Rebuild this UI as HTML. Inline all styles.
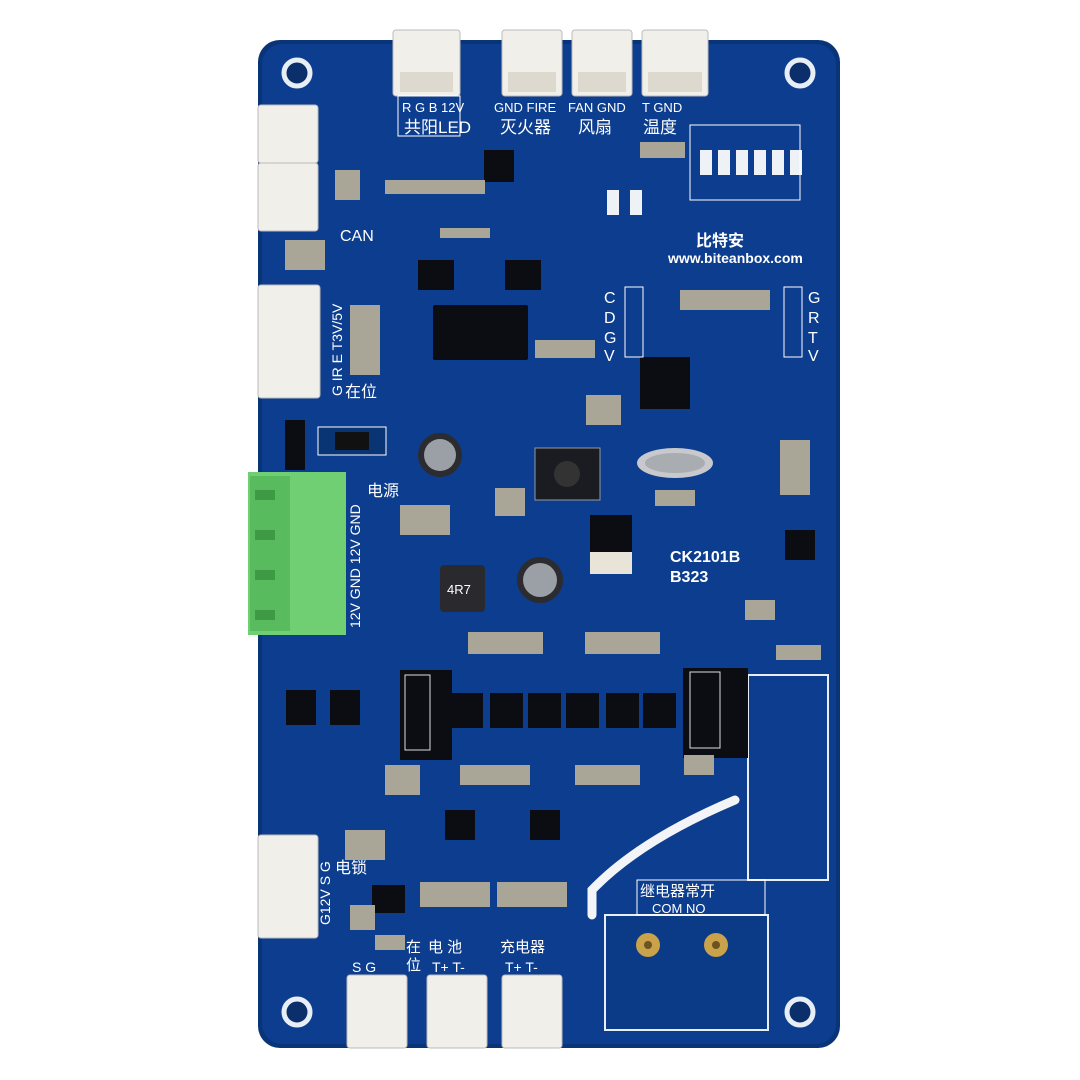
<!DOCTYPE html>
<html><head><meta charset="utf-8"><style>
html,body{margin:0;padding:0;background:#fff;}
svg{display:block}
text{font-family:"Liberation Sans","Noto Sans CJK SC",sans-serif;fill:#fff}
</style></head><body>
<svg width="1080" height="1080" viewBox="0 0 1080 1080" xmlns="http://www.w3.org/2000/svg">
<rect width="1080" height="1080" fill="#fff"/>
<rect x="258" y="40" width="582" height="1008" rx="22" fill="#0a3478"/>
<rect x="262" y="44" width="574" height="1000" rx="20" fill="#0c3d8e"/>
<g fill="#0a2f6a" stroke="#e8eef5" stroke-width="5">
<circle cx="297" cy="73" r="13"/><circle cx="800" cy="73" r="13"/>
<circle cx="297" cy="1012" r="13"/><circle cx="800" cy="1012" r="13"/>
</g>
<g fill="#f1efe9" stroke="#bbb" stroke-width="1">
<rect x="393" y="30" width="67" height="66" rx="3"/>
<rect x="502" y="30" width="60" height="66" rx="3"/>
<rect x="572" y="30" width="60" height="66" rx="3"/>
<rect x="642" y="30" width="66" height="66" rx="3"/>
</g>
<g fill="#ddd9cf"><rect x="400" y="72" width="53" height="20"/><rect x="508" y="72" width="48" height="20"/><rect x="578" y="72" width="48" height="20"/><rect x="648" y="72" width="54" height="20"/></g>
<rect x="398" y="96" width="62" height="40" fill="none" stroke="#fff"/>
<text x="402" y="112" font-size="13">R G B 12V</text><text x="404" y="133" font-size="17">共阳LED</text>
<text x="494" y="112" font-size="13">GND FIRE</text><text x="500" y="133" font-size="17">灭火器</text>
<text x="568" y="112" font-size="13">FAN GND</text><text x="578" y="133" font-size="17">风扇</text>
<text x="642" y="112" font-size="13">T GND</text><text x="643" y="133" font-size="17">温度</text>
<g fill="#f1efe9" stroke="#bbb">
<rect x="258" y="105" width="60" height="58" rx="3"/>
<rect x="258" y="163" width="60" height="68" rx="3"/>
<rect x="258" y="285" width="62" height="113" rx="3"/>
<rect x="258" y="835" width="60" height="103" rx="3"/>
</g>
<text x="340" y="241" font-size="16">CAN</text>
<text font-size="14" transform="translate(342,396) rotate(-90)">G IR E T3V/5V</text>
<text x="345" y="397" font-size="16">在位</text>
<rect x="248" y="472" width="98" height="163" fill="#6fcf72"/>
<rect x="250" y="476" width="40" height="155" fill="#58bb5d"/>
<g fill="#3f9a46"><rect x="255" y="490" width="20" height="10"/><rect x="255" y="530" width="20" height="10"/><rect x="255" y="570" width="20" height="10"/><rect x="255" y="610" width="20" height="10"/></g>
<text font-size="14" transform="translate(360,628) rotate(-90)">12V  GND  12V GND</text>
<text x="367" y="496" font-size="16">电源</text>
<text font-size="14" transform="translate(330,925) rotate(-90)">G12V S G</text>
<text x="335" y="873" font-size="16">电锁</text>
<g fill="#f1efe9" stroke="#bbb">
<rect x="347" y="975" width="60" height="73" rx="3"/>
<rect x="427" y="975" width="60" height="73" rx="3"/>
<rect x="502" y="975" width="60" height="73" rx="3"/>
</g>
<text x="352" y="972" font-size="14">S   G</text><text x="406" y="952" font-size="15">在</text><text x="406" y="970" font-size="15">位</text>
<text x="428" y="952" font-size="15">电  池</text><text x="432" y="972" font-size="14">T+  T-</text>
<text x="500" y="952" font-size="15">充电器</text><text x="505" y="972" font-size="14">T+  T-</text>
<rect x="748" y="675" width="80" height="205" fill="none" stroke="#e8eef5" stroke-width="2"/>
<rect x="605" y="915" width="163" height="115" fill="#0b3a86" stroke="#e8eef5" stroke-width="2"/>
<circle cx="648" cy="945" r="12" fill="#c9a24a"/><circle cx="716" cy="945" r="12" fill="#c9a24a"/>
<circle cx="648" cy="945" r="4" fill="#6b5420"/><circle cx="716" cy="945" r="4" fill="#6b5420"/>
<rect x="637" y="880" width="128" height="35" fill="none" stroke="#fff"/>
<text x="640" y="896" font-size="15">继电器常开</text><text x="652" y="913" font-size="13">COM    NO</text>
<path d="M592 915 L592 890 Q640 840 735 800" fill="none" stroke="#f2f4f7" stroke-width="9" stroke-linecap="round"/>
<g fill="#0b0d12">
<rect x="433" y="305" width="95" height="55" rx="2"/>
<rect x="400" y="670" width="52" height="90"/>
<rect x="683" y="668" width="65" height="90"/>
<rect x="640" y="357" width="50" height="52"/>
<rect x="418" y="260" width="36" height="30"/><rect x="505" y="260" width="36" height="30"/>
<rect x="484" y="150" width="30" height="32"/>
<rect x="785" y="530" width="30" height="30"/>
<rect x="286" y="690" width="30" height="35"/><rect x="330" y="690" width="30" height="35"/>
<rect x="450" y="693" width="33" height="35"/><rect x="490" y="693" width="33" height="35"/><rect x="528" y="693" width="33" height="35"/>
<rect x="566" y="693" width="33" height="35"/><rect x="606" y="693" width="33" height="35"/><rect x="643" y="693" width="33" height="35"/>
<rect x="445" y="810" width="30" height="30"/><rect x="530" y="810" width="30" height="30"/>
<rect x="372" y="885" width="33" height="28"/>
</g>
<rect x="405" y="675" width="25" height="75" fill="none" stroke="#ddd"/>
<rect x="690" y="672" width="30" height="76" fill="none" stroke="#ddd"/>
<rect x="590" y="515" width="42" height="40" fill="#0b0d12"/><rect x="590" y="552" width="42" height="22" fill="#e8e4d8"/>
<rect x="440" y="565" width="45" height="47" rx="4" fill="#2a2a2e"/><text x="447" y="594" font-size="13" fill="#ccc">4R7</text>
<circle cx="440" cy="455" r="22" fill="#2c2c30"/><circle cx="440" cy="455" r="16" fill="#9aa0a6"/>
<circle cx="540" cy="580" r="23" fill="#2c2c30"/><circle cx="540" cy="580" r="17" fill="#9aa0a6"/>
<ellipse cx="675" cy="463" rx="38" ry="15" fill="#c7c9cc"/><ellipse cx="675" cy="463" rx="30" ry="10" fill="#a9acb0"/>
<rect x="535" y="448" width="65" height="52" fill="#1a1c22" stroke="#999"/><circle cx="567" cy="474" r="13" fill="#333"/>
<rect x="318" y="427" width="68" height="28" fill="#0a3575" stroke="#fff"/><rect x="335" y="432" width="34" height="18" fill="#111"/>
<rect x="285" y="420" width="20" height="50" fill="#0b0d12"/>
<g fill="#eef2f7">
<rect x="700" y="150" width="12" height="25"/><rect x="718" y="150" width="12" height="25"/><rect x="736" y="150" width="12" height="25"/>
<rect x="754" y="150" width="12" height="25"/><rect x="772" y="150" width="12" height="25"/><rect x="790" y="150" width="12" height="25"/>
<rect x="607" y="190" width="12" height="25"/><rect x="630" y="190" width="12" height="25"/>
</g>
<rect x="690" y="125" width="110" height="75" fill="none" stroke="#fff"/>
<rect x="625" y="287" width="18" height="70" fill="none" stroke="#fff"/><rect x="784" y="287" width="18" height="70" fill="none" stroke="#fff"/>
<text x="604" y="303" font-size="16">C</text><text x="604" y="323" font-size="16">D</text><text x="604" y="343" font-size="16">G</text><text x="604" y="361" font-size="16">V</text>
<text x="808" y="303" font-size="16">G</text><text x="808" y="323" font-size="16">R</text><text x="808" y="343" font-size="16">T</text><text x="808" y="361" font-size="16">V</text>
<g fill="#a9a698">
<rect x="385" y="180" width="100" height="14"/><rect x="440" y="228" width="50" height="10"/>
<rect x="680" y="290" width="90" height="20"/><rect x="468" y="632" width="75" height="22"/><rect x="585" y="632" width="75" height="22"/>
<rect x="535" y="340" width="60" height="18"/><rect x="640" y="142" width="45" height="16"/><rect x="335" y="170" width="25" height="30"/>
<rect x="350" y="305" width="30" height="70"/><rect x="420" y="882" width="70" height="25"/><rect x="497" y="882" width="70" height="25"/>
<rect x="460" y="765" width="70" height="20"/><rect x="575" y="765" width="65" height="20"/><rect x="385" y="765" width="35" height="30"/>
<rect x="655" y="490" width="40" height="16"/><rect x="780" y="440" width="30" height="55"/><rect x="745" y="600" width="30" height="20"/>
<rect x="285" y="240" width="40" height="30"/><rect x="495" y="488" width="30" height="28"/><rect x="400" y="505" width="50" height="30"/>
<rect x="345" y="830" width="40" height="30"/><rect x="350" y="905" width="25" height="25"/><rect x="375" y="935" width="30" height="15"/>
<rect x="586" y="395" width="35" height="30"/><rect x="684" y="755" width="30" height="20"/><rect x="776" y="645" width="45" height="15"/>
</g>
<text x="696" y="246" font-size="16" font-weight="bold">比特安</text>
<text x="668" y="263" font-size="14" font-weight="bold">www.biteanbox.com</text>
<text x="670" y="562" font-size="16" font-weight="bold">CK2101B</text>
<text x="670" y="582" font-size="16" font-weight="bold">B323</text>
</svg>
</body></html>
